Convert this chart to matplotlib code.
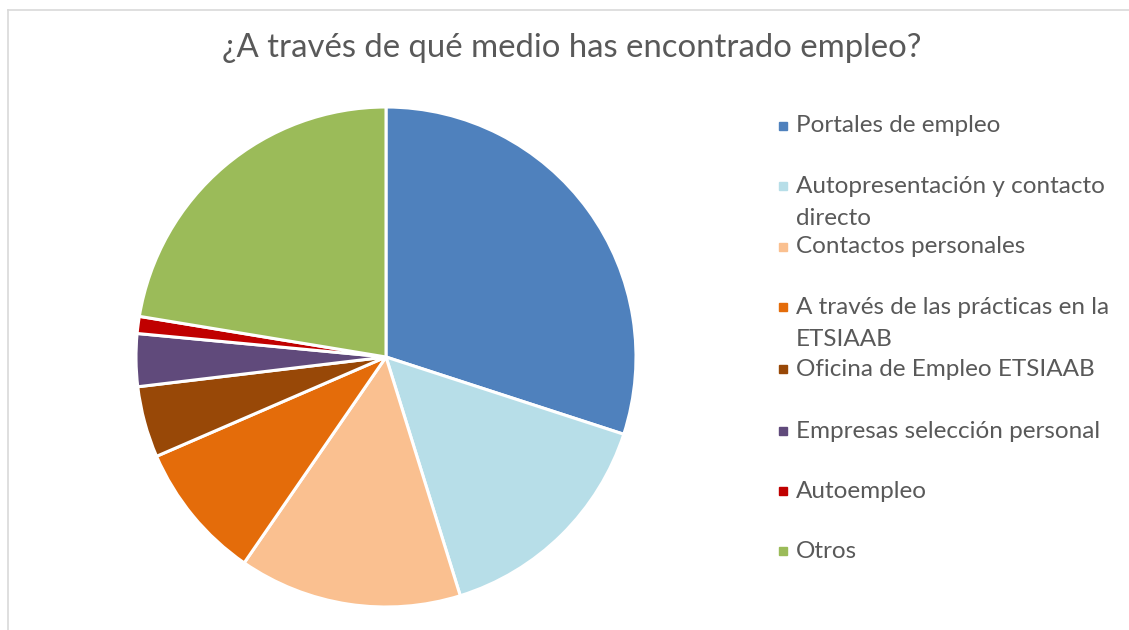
import numpy as np
import matplotlib
matplotlib.use("Agg")
from matplotlib import pyplot as plt
from matplotlib.lines import Line2D
from matplotlib.patches import Rectangle

title = "¿A través de qué medio has encontrado empleo?"
labels = ["Portales de empleo",
          "Autopresentación y contacto\ndirecto",
          "Contactos personales",
          "A través de las prácticas en la\nETSIAAB",
          "Oficina de Empleo ETSIAAB",
          "Empresas selección personal",
          "Autoempleo",
          "Otros"]
values = [30.0, 15.2, 14.4, 8.9, 4.6, 3.4, 1.1, 22.4]
colors = ["#4F81BD", "#B7DEE8", "#FAC090", "#E46C0A",
          "#984807", "#604A7B", "#C00000", "#9BBB59"]

# legend layout (pixel rows of first text line, from top)
leg_rows = [126, 186, 247, 307, 369, 431, 491, 551]

W, H = 1129, 630
fig = plt.figure(figsize=(W/100, H/100), dpi=100)
fig.patch.set_facecolor("white")

# chart border (top / left visible)
fig.add_artist(Line2D([8/W, 1], [1-10/H, 1-10/H], color="#d9d9d9", lw=1.2))
fig.add_artist(Line2D([8/W, 8/W], [0, 1-10/H], color="#d9d9d9", lw=1.2))

cx, cy, r = 386, 357, 250
ax = fig.add_axes([(cx-r)/W, 1-(cy+r)/H, 2*r/W, 2*r/H])
ax.pie(values, colors=colors, startangle=90, counterclock=False,
       wedgeprops=dict(edgecolor="white", linewidth=2.2))
ax.set_xlim(-1, 1)
ax.set_ylim(-1, 1)
ax.set_aspect("auto")
ax.axis("off")

fig.text(572/W, 1-48/H, title, ha="center", va="center",
         fontsize=23.7, color="#595959", family="Lato")

fs = 17.5
for lab, col, y in zip(labels, colors, leg_rows):
    fig.patches.append(Rectangle((779/W, 1-(y+4)/H), 8/W, 8/H,
                                 transform=fig.transFigure, color=col))
    if "\n" in lab:
        fig.text(796/W, 1-(y-10)/H, lab, ha="left", va="top", fontsize=fs,
                 color="#595959", family="Lato", linespacing=1.65)
    else:
        fig.text(796/W, 1-y/H, lab, ha="left", va="center", fontsize=fs,
                 color="#595959", family="Lato")

fig.savefig("out.png", dpi=100)
